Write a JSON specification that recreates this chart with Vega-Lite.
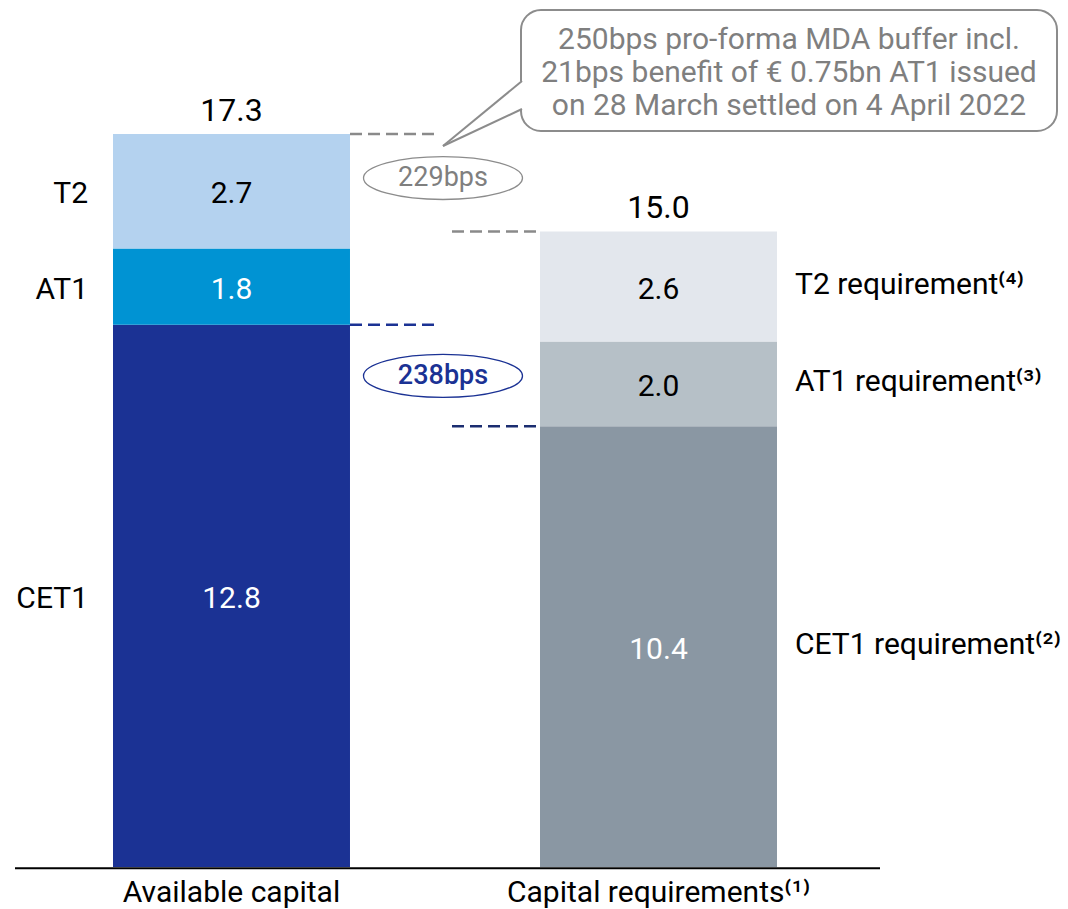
{
  "$schema": "https://vega.github.io/schema/vega-lite/v6.json",
  "width": 1068,
  "height": 909,
  "autosize": {"type": "fit", "contains": "padding"},
  "padding": 0,
  "background": "white",
  "config": {"view": {"stroke": null}, "text": {"font": "Roboto"}},
  "datasets": {
    "bars": [
      {"bar": "Available capital", "component": "CET1", "value": 12.8, "order": 1},
      {"bar": "Available capital", "component": "AT1", "value": 1.8, "order": 2},
      {"bar": "Available capital", "component": "T2", "value": 2.7, "order": 3},
      {"bar": "Capital requirements⁽¹⁾", "component": "CET1 requirement⁽²⁾", "value": 10.4, "order": 1},
      {"bar": "Capital requirements⁽¹⁾", "component": "AT1 requirement⁽³⁾", "value": 2.0, "order": 2},
      {"bar": "Capital requirements⁽¹⁾", "component": "T2 requirement⁽⁴⁾", "value": 2.6, "order": 3}
    ]
  },
  "layer": [
    {
      "data": {"name": "bars"},
      "transform": [
        {"stack": "value", "groupby": ["bar"], "sort": [{"field": "order", "order": "ascending"}], "as": ["v0", "v1"]},
        {"calculate": "(datum.v0 + datum.v1) / 2", "as": "mid"}
      ],
      "encoding": {
        "x": {
          "field": "bar",
          "type": "nominal",
          "sort": null,
          "scale": {"type": "band", "domain": ["Available capital", "Capital requirements⁽¹⁾"], "range": [113, 777], "paddingInner": 0.445, "paddingOuter": 0},
          "axis": null
        }
      },
      "layer": [
        {
          "mark": {"type": "bar"},
          "encoding": {
            "y": {"field": "v0", "type": "quantitative", "scale": {"domain": [-0.991, 20.462], "nice": false, "zero": false}, "axis": null},
            "y2": {"field": "v1"},
            "color": {
              "field": "component",
              "type": "nominal",
              "scale": {
                "domain": ["CET1", "AT1", "T2", "CET1 requirement⁽²⁾", "AT1 requirement⁽³⁾", "T2 requirement⁽⁴⁾"],
                "range": ["#1b3294", "#0093d3", "#b4d2ef", "#8a97a3", "#b6c0c7", "#e3e7ed"]
              },
              "legend": null
            }
          }
        },
        {
          "mark": {"type": "text", "fontSize": 30, "baseline": "middle", "dy": 3},
          "encoding": {
            "y": {"field": "mid", "type": "quantitative"},
            "text": {"field": "value", "type": "quantitative", "format": ".1f"},
            "color": {
              "condition": {"test": "indexof(['CET1','AT1','CET1 requirement⁽²⁾'], datum.component) >= 0", "value": "white"},
              "value": "black"
            }
          }
        },
        {
          "transform": [{"filter": "datum.bar == 'Available capital'"}],
          "mark": {"type": "text", "fontSize": 30, "baseline": "middle", "align": "right", "dx": -25, "dy": 3, "color": "black"},
          "encoding": {
            "x": {"field": "bar", "type": "nominal", "bandPosition": 0},
            "y": {"field": "mid", "type": "quantitative"},
            "text": {"field": "component"}
          }
        },
        {
          "transform": [{"filter": "datum.bar != 'Available capital'"}],
          "mark": {"type": "text", "fontSize": 30, "baseline": "middle", "align": "left", "dx": 18, "dy": -2, "color": "black"},
          "encoding": {
            "x": {"field": "bar", "type": "nominal", "bandPosition": 1},
            "y": {"field": "mid", "type": "quantitative"},
            "text": {"field": "component"}
          }
        },
        {
          "transform": [{"aggregate": [{"op": "sum", "field": "value", "as": "total"}], "groupby": ["bar"]}],
          "mark": {"type": "text", "fontSize": 32, "baseline": "middle", "dy": -23, "color": "black"},
          "encoding": {
            "y": {"field": "total", "type": "quantitative"},
            "text": {"field": "total", "type": "quantitative", "format": ".1f"}
          }
        },
        {
          "transform": [{"aggregate": [{"op": "count", "as": "n"}], "groupby": ["bar"]}],
          "mark": {"type": "text", "fontSize": 30, "baseline": "middle", "color": "black"},
          "encoding": {
            "y": {"datum": -0.61, "type": "quantitative"},
            "text": {"field": "bar"}
          }
        }
      ]
    },
    {
      "data": {"values": [{}]},
      "layer": [
        {
          "mark": {"type": "rect", "fill": "white", "stroke": "#8c8c8c", "strokeWidth": 2, "cornerRadius": 20},
          "encoding": {
            "x": {"datum": 521, "type": "quantitative", "scale": {"domain": [0, 1068], "nice": false, "zero": false}, "axis": null},
            "x2": {"datum": 1057},
            "y": {"datum": 20.226, "type": "quantitative"},
            "y2": {"datum": 17.37}
          }
        },
        {
          "mark": {"type": "rule", "stroke": "white", "strokeWidth": 6},
          "encoding": {
            "x": {"datum": 521, "type": "quantitative"},
            "y": {"datum": 18.55, "type": "quantitative"},
            "y2": {"datum": 17.89}
          }
        },
        {
          "mark": {"type": "rule", "stroke": "#8c8c8c", "strokeWidth": 2},
          "encoding": {
            "x": {"datum": 522, "type": "quantitative"},
            "x2": {"datum": 443},
            "y": {"datum": 18.55, "type": "quantitative"},
            "y2": {"datum": 17.016}
          }
        },
        {
          "mark": {"type": "rule", "stroke": "#8c8c8c", "strokeWidth": 2},
          "encoding": {
            "x": {"datum": 522, "type": "quantitative"},
            "x2": {"datum": 443},
            "y": {"datum": 17.89, "type": "quantitative"},
            "y2": {"datum": 17.016}
          }
        },
        {
          "mark": {"type": "text", "fontSize": 30, "lineHeight": 33, "baseline": "middle", "align": "center", "color": "#7f7f7f"},
          "encoding": {
            "x": {"datum": 789, "type": "quantitative"},
            "y": {"datum": 19.52, "type": "quantitative"},
            "text": {"value": ["250bps pro-forma MDA buffer incl.", "21bps benefit of € 0.75bn AT1 issued", "on 28 March settled on 4 April 2022"]}
          }
        },
        {
          "mark": {"type": "point", "shape": "M-1,0A1,0.27,0,1,1,1,0A1,0.27,0,1,1,-1,0Z", "size": 25281, "filled": false, "stroke": "#8c8c8c", "strokeWidth": 1.3, "opacity": 1},
          "encoding": {
            "x": {"datum": 443, "type": "quantitative"},
            "y": {"datum": 16.26, "type": "quantitative"}
          }
        },
        {
          "mark": {"type": "text", "fontSize": 27, "baseline": "middle", "align": "center", "color": "#7f7f7f"},
          "encoding": {
            "x": {"datum": 443, "type": "quantitative"},
            "y": {"datum": 16.26, "type": "quantitative"},
            "text": {"value": "229bps"}
          }
        },
        {
          "mark": {"type": "point", "shape": "M-1,0A1,0.27,0,1,1,1,0A1,0.27,0,1,1,-1,0Z", "size": 25281, "filled": false, "stroke": "#1b3294", "strokeWidth": 1.3, "opacity": 1},
          "encoding": {
            "x": {"datum": 443, "type": "quantitative"},
            "y": {"datum": 11.59, "type": "quantitative"}
          }
        },
        {
          "mark": {"type": "text", "fontSize": 27, "fontWeight": 500, "baseline": "middle", "align": "center", "color": "#1b3294"},
          "encoding": {
            "x": {"datum": 443, "type": "quantitative"},
            "y": {"datum": 11.59, "type": "quantitative"},
            "text": {"value": "238bps"}
          }
        },
        {
          "mark": {"type": "rule", "stroke": "#8a8a8a", "strokeWidth": 2.5, "strokeDash": [12, 6]},
          "encoding": {
            "x": {"datum": 350, "type": "quantitative"},
            "x2": {"datum": 436},
            "y": {"datum": 17.3, "type": "quantitative"}
          }
        },
        {
          "mark": {"type": "rule", "stroke": "#8a8a8a", "strokeWidth": 2.5, "strokeDash": [12, 6]},
          "encoding": {
            "x": {"datum": 452, "type": "quantitative"},
            "x2": {"datum": 538},
            "y": {"datum": 15.0, "type": "quantitative"}
          }
        },
        {
          "mark": {"type": "rule", "stroke": "#1b3294", "strokeWidth": 2.5, "strokeDash": [12, 6]},
          "encoding": {
            "x": {"datum": 350, "type": "quantitative"},
            "x2": {"datum": 436},
            "y": {"datum": 12.8, "type": "quantitative"}
          }
        },
        {
          "mark": {"type": "rule", "stroke": "#1b2d70", "strokeWidth": 2.5, "strokeDash": [12, 6]},
          "encoding": {
            "x": {"datum": 452, "type": "quantitative"},
            "x2": {"datum": 538},
            "y": {"datum": 10.4, "type": "quantitative"}
          }
        },
        {
          "mark": {"type": "rule", "stroke": "black", "strokeWidth": 2},
          "encoding": {
            "x": {"datum": 15, "type": "quantitative"},
            "x2": {"datum": 880},
            "y": {"datum": -0.03, "type": "quantitative"}
          }
        }
      ]
    }
  ],
  "resolve": {"scale": {"x": "independent"}}
}
